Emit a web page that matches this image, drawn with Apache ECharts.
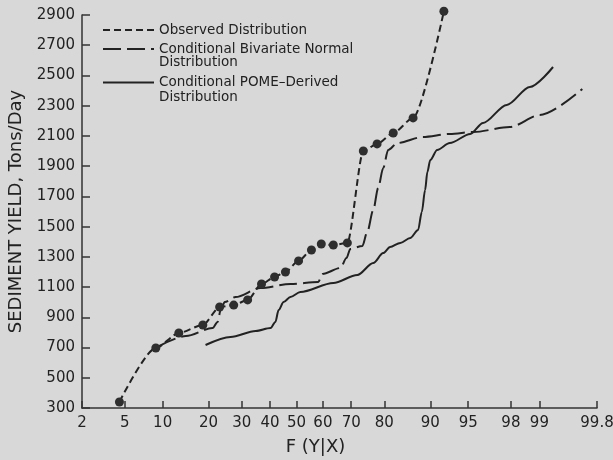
<!DOCTYPE html>
<html>
<head>
<meta charset="utf-8">
<script src="https://cdn.jsdelivr.net/npm/echarts@6/dist/echarts.min.js"></script>
<style>
  html, body { margin: 0; padding: 0; background: #d8d8d8; }
  #chart { width: 613px; height: 460px; }
</style>
</head>
<body>
<div id="chart"></div>
<script>
// probability ticks on the x axis (normal probability paper)
var xTicks = [2, 5, 10, 20, 30, 40, 50, 60, 70, 80, 90, 95, 98, 99, 99.8];
var yTicks = [300, 500, 700, 900, 1100, 1300, 1500, 1700, 1900, 2100, 2300, 2500, 2700, 2900];

// observed distribution, F in percent / sediment yield
var obsF = [4.5, 8.9, 13.0, 18.5, 23.1, 27.4, 32.0, 36.9, 41.7, 45.8, 50.8, 55.7, 59.4, 63.8, 68.7, 73.9, 78.0, 82.3, 86.8, 92.1];
var obsY = [340, 697, 796, 849, 968, 981, 1015, 1120, 1167, 1200, 1273, 1345, 1385, 1378, 1392, 2000, 2047, 2119, 2219, 2925];

// conditional bivariate normal
var bvnF = [9.4, 14.5, 21.1, 22.5, 23.4, 24.6, 28.0, 36.5, 47.7, 58.3, 59.8, 66.3, 68.4, 69.7, 73.6, 75.1, 76.9, 78.3, 79.7, 81.0, 83.3, 88.7, 92.9, 95.5, 97.95, 99.01, 99.69];
var bvnY = [710, 776, 829, 869, 948, 1001, 1034, 1094, 1120, 1134, 1187, 1226, 1292, 1352, 1372, 1464, 1610, 1756, 1888, 2007, 2053, 2093, 2113, 2126, 2159, 2238, 2411];

// conditional POME-derived
var pomeF = [19.2, 26.4, 34.8, 40.2, 42.0, 43.2, 45.1, 47.7, 51.5, 63.8, 72.0, 76.9, 79.7, 81.5, 84.0, 86.2, 87.8, 88.5, 89.1, 89.5, 90.0, 91.1, 92.9, 95.2, 96.3, 97.8, 98.73, 99.3];
var pomeY = [717, 770, 809, 829, 869, 948, 1001, 1034, 1067, 1127, 1180, 1259, 1325, 1365, 1392, 1425, 1478, 1597, 1742, 1861, 1941, 2007, 2053, 2113, 2186, 2305, 2424, 2556];

// inverse normal cdf (Acklam)
function probit(p) {
  var a = [-3.969683028665376e+01, 2.209460984245205e+02, -2.759285104469687e+02, 1.383577518672690e+02, -3.066479806614716e+01, 2.506628277459239e+00];
  var b = [-5.447609879822406e+01, 1.615858368580409e+02, -1.556989798598866e+02, 6.680131188771972e+01, -1.328068155288572e+01];
  var c = [-7.784894002430293e-03, -3.223964580411365e-01, -2.400758277161838e+00, -2.549671348402440e+00, 4.374664141464968e+00, 2.938163982698783e+00];
  var d = [7.784695709041462e-03, 3.224671290700398e-01, 2.445134137142996e+00, 3.754408661907416e+00];
  var plow = 0.02425, q, r;
  if (p < plow) {
    q = Math.sqrt(-2 * Math.log(p));
    return (((((c[0] * q + c[1]) * q + c[2]) * q + c[3]) * q + c[4]) * q + c[5]) / ((((d[0] * q + d[1]) * q + d[2]) * q + d[3]) * q + 1);
  }
  if (p > 1 - plow) {
    q = Math.sqrt(-2 * Math.log(1 - p));
    return -(((((c[0] * q + c[1]) * q + c[2]) * q + c[3]) * q + c[4]) * q + c[5]) / ((((d[0] * q + d[1]) * q + d[2]) * q + d[3]) * q + 1);
  }
  q = p - 0.5; r = q * q;
  return (((((a[0] * r + a[1]) * r + a[2]) * r + a[3]) * r + a[4]) * r + a[5]) * q / (((((b[0] * r + b[1]) * r + b[2]) * r + b[3]) * r + b[4]) * r + 1);
}
function z(f) { return probit(f / 100); }
function pairs(fs, ys) {
  return fs.map(function (f, i) { return [z(f), ys[i]]; });
}

var ink = '#222';
var xTickZ = xTicks.map(z);
var chart = echarts.init(document.getElementById('chart'), null, { renderer: 'canvas' });

// legend text: a blank first line keeps the sample line level with the first text line
var legendFont = { fontSize: 13.5, color: ink, fontFamily: 'DejaVu Sans' };
function twoLine(lh) {
  return Object.assign({}, legendFont, { lineHeight: lh });
}

chart.setOption({
  backgroundColor: '#d8d8d8',
  animation: false,
  textStyle: { fontFamily: 'DejaVu Sans', color: ink },
  grid: { left: 82, right: 16, top: 15, bottom: 52, outerBoundsMode: 'none' },
  legend: [
    {
      left: 102, top: 23, padding: 0, itemWidth: 51, itemHeight: 14, itemGap: 9,
      textStyle: legendFont,
      data: [{ name: 'Observed Distribution', itemStyle: { opacity: 0 } }]
    },
    {
      left: 102, top: 29, padding: 0, itemWidth: 51, itemHeight: 14, itemGap: 9,
      textStyle: twoLine(13),
      formatter: function (name) { return '\n' + name; },
      data: [{ name: 'Conditional Bivariate Normal\nDistribution', itemStyle: { opacity: 0 } }]
    },
    {
      left: 102, top: 60, padding: 0, itemWidth: 51, itemHeight: 14, itemGap: 9,
      textStyle: twoLine(15),
      formatter: function (name) { return '\n' + name; },
      data: [{ name: 'Conditional POME\u2013Derived\nDistribution', itemStyle: { opacity: 0 } }]
    }
  ],
  xAxis: {
    type: 'value',
    min: z(2),
    max: z(99.8),
    name: 'F (Y|X)',
    nameLocation: 'middle',
    nameGap: 30,
    nameTextStyle: { fontSize: 18, color: ink, padding: [0, 48, 0, 0] },
    splitLine: { show: false },
    axisLine: { onZero: false, lineStyle: { color: '#333', width: 1.5 } },
    axisTick: { inside: true, length: 7, customValues: xTickZ, lineStyle: { color: '#333', width: 1.5 } },
    axisLabel: {
      customValues: xTickZ, fontSize: 15, color: ink, margin: 8, showMinLabel: true, showMaxLabel: true,
      formatter: function (v) {
        var best = 0;
        xTickZ.forEach(function (t, i) { if (Math.abs(t - v) < Math.abs(xTickZ[best] - v)) best = i; });
        return String(xTicks[best]);
      }
    }
  },
  yAxis: {
    type: 'value',
    min: 300,
    max: 2900,
    name: 'SEDIMENT YIELD, Tons/Day',
    nameLocation: 'middle',
    nameGap: 57,
    nameTextStyle: { fontSize: 18, color: ink },
    splitLine: { show: false },
    axisLine: { show: true, onZero: false, lineStyle: { color: '#333', width: 1.5 } },
    axisTick: { show: true, inside: true, length: 8, customValues: yTicks, lineStyle: { color: '#333', width: 1.5 } },
    axisLabel: {
      customValues: yTicks, fontSize: 15, color: ink, margin: 7,
      formatter: function (v) { return String(v); }
    }
  },
  series: [
    {
      name: 'Observed Distribution',
      type: 'line',
      data: pairs(obsF, obsY),
      smooth: 0.25,
      smoothMonotone: 'x',
      clip: false,
      symbol: 'circle',
      symbolSize: 9,
      itemStyle: { color: '#2e2e2e' },
      lineStyle: { color: ink, width: 2, type: [7, 4] }
    },
    {
      name: 'Conditional Bivariate Normal\nDistribution',
      type: 'line',
      data: pairs(bvnF, bvnY),
      smooth: 0.3,
      smoothMonotone: 'x',
      showSymbol: false,
      symbol: 'none',
      itemStyle: { color: ink },
      lineStyle: { color: ink, width: 2, type: [18, 6] }
    },
    {
      name: 'Conditional POME\u2013Derived\nDistribution',
      type: 'line',
      data: pairs(pomeF, pomeY),
      smooth: 0.3,
      smoothMonotone: 'x',
      showSymbol: false,
      symbol: 'none',
      itemStyle: { color: ink },
      lineStyle: { color: ink, width: 2 }
    }
  ]
});
</script>
</body>
</html>
